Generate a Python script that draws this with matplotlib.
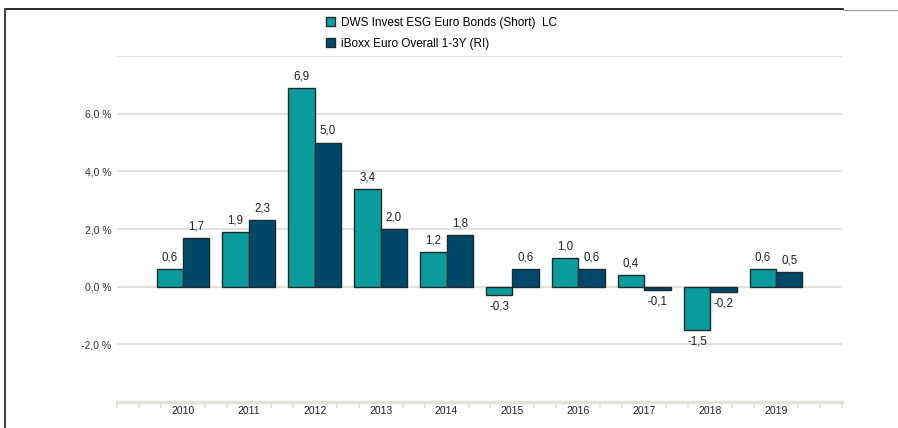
import matplotlib.pyplot as plt
import numpy as np
from matplotlib.lines import Line2D
from matplotlib.patches import Patch

plt.rcParams['font.family'] = ['Liberation Sans', 'DejaVu Sans']

years = ['2010', '2011', '2012', '2013', '2014', '2015', '2016', '2017', '2018', '2019']
fund = [0.6, 1.9, 6.9, 3.4, 1.2, -0.3, 1.0, 0.4, -1.5, 0.6]
bench = [1.7, 2.3, 5.0, 2.0, 1.8, 0.6, 0.6, -0.1, -0.2, 0.5]
fund_name = 'DWS Invest ESG Euro Bonds (Short)  LC'
bench_name = 'iBoxx Euro Overall 1-3Y (RI)'

teal = '#0a9c9c'
navy = '#00486a'
edge = '#1b2a2e'
grid_c = '#e4e1da'

fig = plt.figure(figsize=(8.98, 4.28), dpi=100)
ax = fig.add_axes([117/898, 1-402/428, 725/898, 346/428])

x = np.arange(len(years))
w = 0.4
b1 = ax.bar(x - w/2, fund, w, color=teal, edgecolor=edge, linewidth=1, zorder=3)
b2 = ax.bar(x + w/2, bench, w, color=navy, edgecolor=edge, linewidth=1, zorder=3)

for bars, vals in ((b1, fund), (b2, bench)):
    for r, v in zip(bars, vals):
        lab = f'{v:.1f}'.replace('.', ',')
        if v >= 0:
            ax.annotate(lab, (r.get_x() + r.get_width()/2, v), xytext=(0, 4),
                        textcoords='offset points', ha='center', va='bottom',
                        fontsize=8.3, color='#222222')
        else:
            ax.annotate(lab, (r.get_x() + r.get_width()/2, v), xytext=(0, -4),
                        textcoords='offset points', ha='center', va='top',
                        fontsize=8.3, color='#222222')

ax.set_xlim(-1, 10)
ax.set_ylim(-4, 8)
ax.set_yticks([-2, 0, 2, 4, 6, 8])
ax.set_yticklabels(['-2,0 %', '0,0 %', '2,0 %', '4,0 %', '6,0 %', ''])
ax.yaxis.grid(True, color=grid_c, linewidth=1.5, zorder=0)
ax.tick_params(axis='y', length=0, labelsize=7.5, labelcolor='#333333', pad=4)

ax.set_xticks(x)
ax.set_xticklabels(years)
minor = [t for t in np.arange(-1, 10.01, 1/3) if abs(t - round(t)) > 0.01 or t < 0 or t > 9]
ax.set_xticks(minor, minor=True)
ax.tick_params(axis='x', which='major', length=0, labelsize=7.5, labelcolor='#222222', pad=3)
ax.tick_params(axis='x', which='minor', length=4, width=1.2, color=grid_c, direction='out')

for s in ['top', 'right', 'left']:
    ax.spines[s].set_visible(False)
ax.spines['bottom'].set_color(grid_c)
ax.spines['bottom'].set_linewidth(2.5)

handles = [Patch(facecolor=teal, edgecolor=edge, label=fund_name),
           Patch(facecolor=navy, edgecolor=edge, label=bench_name)]
fig.legend(handles=handles, loc='upper left', bbox_to_anchor=(321/898, 1-12/428),
           frameon=False, fontsize=8.5, handlelength=0.8, handleheight=0.8,
           handletextpad=0.5, labelspacing=0.75, borderaxespad=0)

# outer frame
fig.add_artist(Line2D([5/898, 843/898], [1-9/428, 1-9/428], color='black', linewidth=1.2,
                      transform=fig.transFigure))
fig.add_artist(Line2D([843/898, 1], [1-10/428, 1-10/428], color='#aaaaaa', linewidth=1,
                      transform=fig.transFigure))
fig.add_artist(Line2D([5/898, 5/898], [1-9/428, 0], color='#444444', linewidth=1.5,
                      transform=fig.transFigure))

fig.savefig('out.png', dpi=100)
